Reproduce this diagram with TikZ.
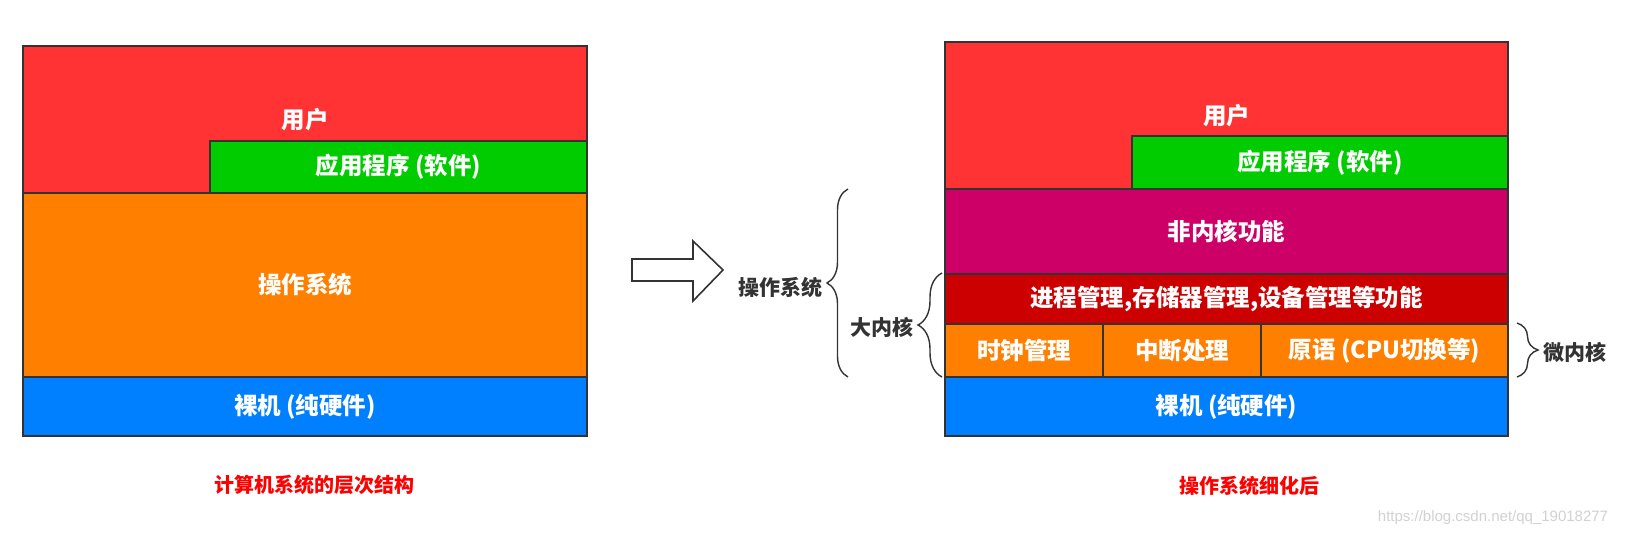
\documentclass[tikz,border=0pt]{standalone}
\usepackage{fontspec}
\setmainfont{Noto Sans CJK SC}
\newfontfamily\wmfont{Liberation Sans}
\usetikzlibrary{decorations.pathreplacing}

\definecolor{userred}{HTML}{FF3333}
\definecolor{appgreen}{HTML}{00CC00}
\definecolor{osorange}{HTML}{FF8000}
\definecolor{hwblue}{HTML}{007FFF}
\definecolor{nonkmag}{HTML}{CC0066}
\definecolor{kerndark}{HTML}{CC0000}
\definecolor{edgegray}{HTML}{333333}

\tikzset{
  layer/.style={draw=edgegray, line width=1.6pt, rectangle, inner sep=0pt,
    text=white, font=\fontsize{23.5}{27}\selectfont\bfseries},
  side/.style={text=edgegray, font=\fontsize{21}{25}\selectfont\bfseries},
  caption/.style={text=red, font=\fontsize{20}{24}\selectfont\bfseries},
  brc/.style={draw=edgegray, line width=1.4pt, decorate,
    decoration={brace, amplitude=#1}},
}

\begin{document}
\begin{tikzpicture}[x=1pt,y=-1pt]
\useasboundingbox (0,0) rectangle (1633,537);

%% left: layers of the computer system
\node[layer, fill=userred, minimum width=564pt, minimum height=147pt] (user) at (305,119.5) {用户};
\node[layer, fill=appgreen, minimum width=377pt, minimum height=52pt] (app) at (398.5,167) {应用程序 (软件)};
\node[layer, fill=osorange, minimum width=564pt, minimum height=184pt] (os) at (305,285) {操作系统};
\node[layer, fill=hwblue, minimum width=564pt, minimum height=59pt] (hw) at (305,406.5) {裸机 (纯硬件)};
\node[caption] (capl) at (314,485) {计算机系统的层次结构};

%% big arrow
\draw[draw=edgegray, line width=1.6pt, fill=white]
  (632,259) -- (693,259) -- (693,241) -- (723,270) -- (693,301) -- (693,281) -- (632,281) -- cycle;

%% right: the operating system split up
\node[layer, fill=userred, minimum width=563pt, minimum height=147pt] (user2) at (1226.5,115.5) {用户};
\node[layer, fill=appgreen, minimum width=376pt, minimum height=53pt] (app2) at (1320,162.5) {应用程序 (软件)};
\node[layer, fill=nonkmag, minimum width=563pt, minimum height=85pt] (nonk) at (1226.5,231.5) {非内核功能};
\node[layer, fill=kerndark, minimum width=563pt, minimum height=50pt] (kern) at (1226.5,299) {进程管理,存储器管理,设备管理等功能};
\node[layer, fill=osorange, minimum width=158pt, minimum height=53pt] (clock) at (1024,350.5) {时钟管理};
\node[layer, fill=osorange, minimum width=158pt, minimum height=53pt] (intr) at (1182,350.5) {中断处理};
\node[layer, fill=osorange, minimum width=247pt, minimum height=53pt] (prim) at (1384.5,350.5) {原语 (CPU切换等)};
\node[layer, fill=hwblue, minimum width=563pt, minimum height=59pt] (hw2) at (1226.5,406.5) {裸机 (纯硬件)};
\node[caption] (capr) at (1249,486) {操作系统细化后};

%% braces
\coordinate (osTop) at (848,189);
\coordinate (osBot) at (848,377);
\coordinate (bigTop) at (942,273);
\coordinate (bigBot) at (942,377);
\coordinate (microTop) at (1517,323);
\coordinate (microBot) at (1517,377);
\draw[brc=21pt] (osBot) -- (osTop);
\draw[brc=24pt] (bigBot) -- (bigTop);
\draw[brc=21pt] (microTop) -- (microBot);

%% brace labels
\node[side] (oslbl) at (780,287) {操作系统};
\node[side] (biglbl) at (882,327) {大内核};
\node[side] (microlbl) at (1575,352) {微内核};

\node[text=black!18, font=\wmfont\fontsize{15}{18}\selectfont] (wm) at (1493,518) {https://blog.csdn.net/qq\_19018277};
\end{tikzpicture}
\end{document}
